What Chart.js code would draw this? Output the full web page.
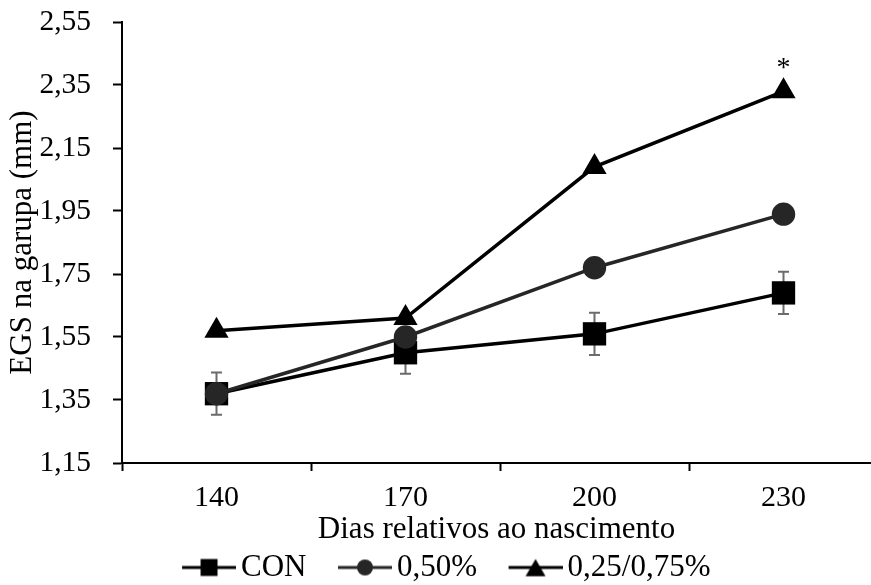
<!DOCTYPE html>
<html>
<head>
<meta charset="utf-8">
<script src="https://cdn.jsdelivr.net/npm/chart.js@4.4.1/dist/chart.umd.min.js"></script>
<style>
html, body { margin: 0; padding: 0; background: #fff; overflow: hidden; }
#wrap { width: 871px; height: 585px; }
</style>
</head>
<body>
<div id="wrap"><canvas id="chart"></canvas></div>
<script>
// values
const days = [140, 170, 200, 230];
const conValues = [1.37, 1.50, 1.56, 1.69];
const conErrors = [0.067, 0.067, 0.067, 0.067];
const halfValues = [1.37, 1.55, 1.77, 1.94];
const mixValues = [1.57, 1.61, 2.09, 2.33];
const mixMarks = ['', '', '', '*'];
const seriesNames = ['CON', '0,50%', '0,25/0,75%'];
const yTicks = [1.15, 1.35, 1.55, 1.75, 1.95, 2.15, 2.35, 2.55];
// x ticks: labelled days plus the separators between them
const xTicks = [125, 140, 155, 170, 185, 200, 215, 230];

const serif = "'Liberation Serif', 'Times New Roman', serif";
Chart.defaults.font.family = serif;
Chart.defaults.color = '#000';

const toPoints = (vals) => vals.map((v, i) => ({x: days[i], y: v}));
const comma = (v) => v.toFixed(2).replace('.', ',');

// line + marker pictures for the legend (blank strip on the left keeps items apart)
const legendIcon = (style, color, radius) => {
    const c = document.createElement('canvas');
    c.width = 90;
    c.height = 28;
    const g = c.getContext('2d');
    g.strokeStyle = color;
    g.lineWidth = 3;
    g.beginPath();
    g.moveTo(36, 14);
    g.lineTo(90, 14);
    g.stroke();
    g.fillStyle = color;
    const dy = style === 'triangle' ? radius / 4 : 0;
    Chart.helpers.drawPoint(g, {pointStyle: style, radius: radius, rotation: 0, borderWidth: 0}, 63, 14 + dy);
    return c;
};
const icons = [
    legendIcon('rect', '#000', 12),
    legendIcon('circle', '#262626', 8),
    legendIcon('triangle', '#000', 11.5)
];

const errorBars = {
    id: 'errorBars',
    beforeDatasetsDraw(chart) {
        const {ctx, scales: {x, y}} = chart;
        ctx.save();
        ctx.strokeStyle = '#6b6b6b';
        ctx.lineWidth = 2;
        days.forEach((d, i) => {
            const px = x.getPixelForValue(d);
            const top = y.getPixelForValue(conValues[i] + conErrors[i]);
            const bot = y.getPixelForValue(conValues[i] - conErrors[i]);
            ctx.beginPath();
            ctx.moveTo(px, top); ctx.lineTo(px, bot);
            ctx.moveTo(px - 5.5, top); ctx.lineTo(px + 5.5, top);
            ctx.moveTo(px - 5.5, bot); ctx.lineTo(px + 5.5, bot);
            ctx.stroke();
        });
        ctx.restore();
    }
};

const marks = {
    id: 'marks',
    afterDatasetsDraw(chart) {
        const {ctx, scales: {x, y}} = chart;
        ctx.save();
        ctx.font = '28px ' + serif;
        ctx.fillStyle = '#000';
        ctx.textAlign = 'center';
        ctx.textBaseline = 'alphabetic';
        mixMarks.forEach((m, i) => {
            if (!m) return;
            ctx.fillText(m, x.getPixelForValue(days[i]), y.getPixelForValue(mixValues[i]) - 15);
        });
        ctx.restore();
    }
};

const ctx = document.getElementById('chart').getContext('2d');
const chart = new Chart(ctx, {
    type: 'line',
    data: {
        datasets: [
            {
                label: seriesNames[0],
                data: toPoints(conValues),
                borderColor: '#000',
                backgroundColor: '#000',
                borderWidth: 3.5,
                pointStyle: 'rect',
                pointRadius: 16.5,
                pointBorderWidth: 0,
                order: 3
            },
            {
                label: seriesNames[1],
                data: toPoints(halfValues),
                borderColor: '#262626',
                backgroundColor: '#262626',
                borderWidth: 3.5,
                pointStyle: 'circle',
                pointRadius: 11.7,
                pointBorderWidth: 0,
                order: 2
            },
            {
                label: seriesNames[2],
                data: toPoints(mixValues),
                borderColor: '#000',
                backgroundColor: '#000',
                borderWidth: 3.5,
                pointStyle: 'triangle',
                pointRadius: 14,
                pointBorderWidth: 0,
                order: 1
            }
        ]
    },
    options: {
        responsive: true,
        maintainAspectRatio: false,
        animation: false,
        devicePixelRatio: 1,
        layout: {autoPadding: false, padding: {top: 22, right: 0, left: -4, bottom: -8}},
        scales: {
            x: {
                type: 'linear',
                min: 125,
                max: 125 + 749 / 6.3,
                afterBuildTicks: (scale) => { scale.ticks = xTicks.map(v => ({value: v})); },
                afterFit: (scale) => {
                    scale.height = 83;
                    scale.paddingLeft = 0;
                    scale.paddingRight = 0;
                },
                ticks: {
                    autoSkip: false,
                    maxRotation: 0,
                    padding: 9,
                    font: {size: 30},
                    color: '#000',
                    callback: (v) => days.includes(v) ? String(v) : ''
                },
                grid: {
                    drawOnChartArea: false,
                    drawTicks: true,
                    tickLength: 8,
                    tickWidth: 2,
                    tickColor: (c) => (c.tick && days.includes(c.tick.value)) ? 'rgba(0,0,0,0)' : '#000'
                },
                border: {display: true, color: '#000', width: 2},
                title: {
                    display: true,
                    text: 'Dias relativos ao nascimento',
                    font: {size: 31},
                    color: '#000',
                    padding: {top: 0, bottom: -2}
                }
            },
            y: {
                min: 1.15,
                max: 2.55,
                afterBuildTicks: (scale) => { scale.ticks = yTicks.map(v => ({value: v})); },
                afterFit: (scale) => {
                    scale.width = 126;
                    scale.paddingTop = 0;
                    scale.paddingBottom = 0;
                },
                ticks: {
                    padding: 22,
                    font: {size: 29.5},
                    color: '#000',
                    callback: (v) => comma(v)
                },
                grid: {
                    drawOnChartArea: false,
                    drawTicks: true,
                    tickLength: 9,
                    tickWidth: 2,
                    tickColor: '#000'
                },
                border: {display: true, color: '#000', width: 2},
                title: {
                    display: true,
                    text: 'EGS na garupa (mm)',
                    font: {size: 31},
                    color: '#000',
                    padding: {top: 8, bottom: 0}
                }
            }
        },
        plugins: {
            legend: {
                position: 'bottom',
                labels: {
                    usePointStyle: true,
                    pointStyleWidth: 69,
                    padding: 6,
                    font: {size: 31},
                    color: '#000',
                    generateLabels: (c) => c.data.datasets.map((ds, i) => ({
                        text: ds.label,
                        pointStyle: icons[i],
                        fillStyle: ds.borderColor,
                        strokeStyle: ds.borderColor,
                        fontColor: '#000',
                        lineWidth: 0,
                        hidden: false,
                        datasetIndex: i
                    }))
                }
            },
            tooltip: {enabled: false}
        }
    },
    plugins: [errorBars, marks]
});
</script>
</body>
</html>
